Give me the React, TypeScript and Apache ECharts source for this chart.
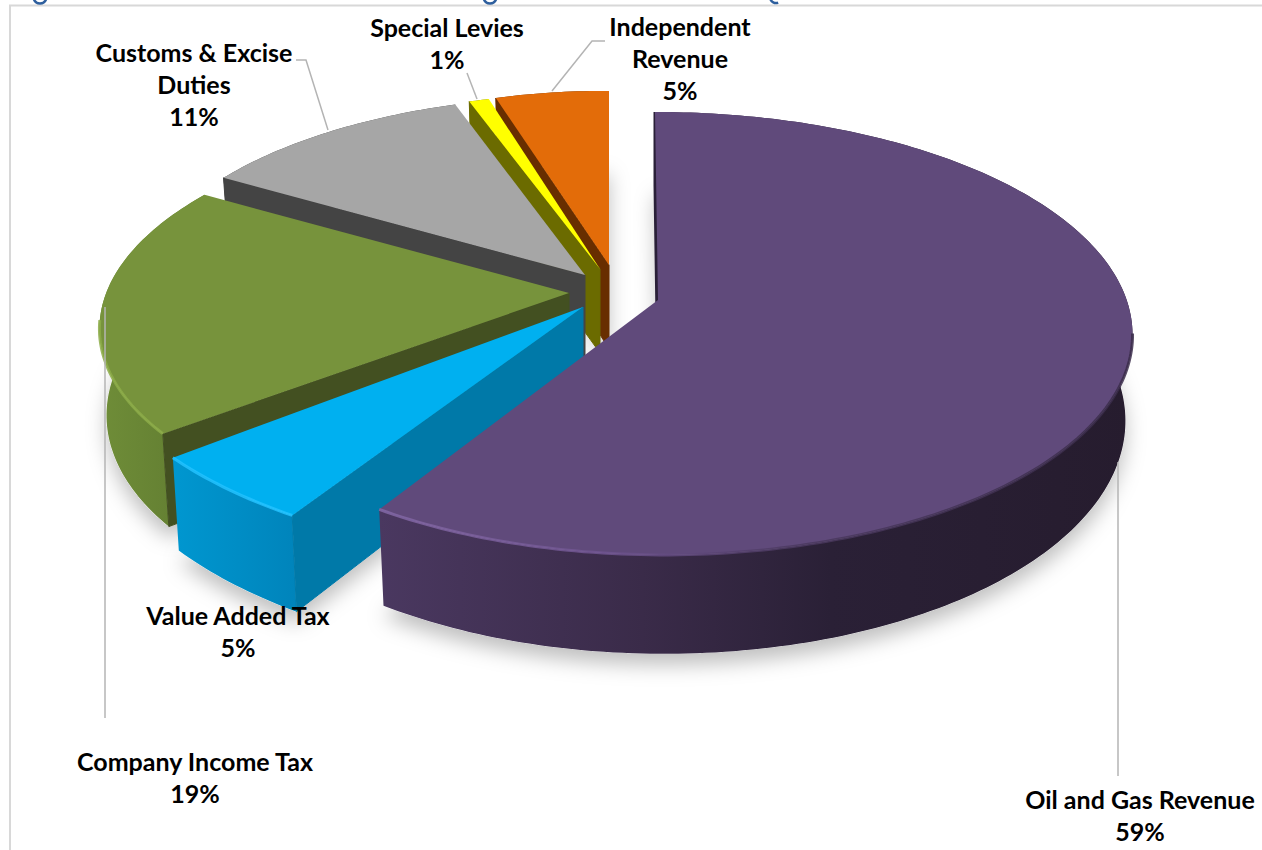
import React, { useEffect, useRef } from "react";
import * as echarts from "echarts";

// Revenue shares, clockwise from twelve o'clock.
const categories = [
  "Oil and Gas Revenue",
  "Value Added Tax",
  "Company Income Tax",
  "Customs & Excise\nDuties",
  "Special Levies",
  "Independent\nRevenue",
];
const shares = [59, 5, 19, 11, 1, 5];

// Back-to-front drawing sequence of the slices.
const paintOrder = [5, 4, 3, 2, 1, 0];

const topColors = ["#604a7b", "#00b0f0", "#77933c", "#a6a6a6", "#ffff00", "#e36c09"];
const rimColors = ["#7d60a0", "#22c2ff", "#8cab48", "#b0b0b0", "#ffff40", "#ee7a18"];
const sideColors = ["#2a2038", "#0079a8", "#435021", "#444444", "#6b6b00", "#682e00"];
const outerWallStops: [string, string][] = [
  ["#4a3860", "#231a2c"],
  ["#0097d0", "#0084bb"],
  ["#6f8d38", "#5f7a30"],
  ["#444444", "#444444"],
  ["#6b6b00", "#6b6b00"],
  ["#682e00", "#682e00"],
];

// Screen pull of each slice away from the pie's centre.
const slicePull = [
  { start: [-3, 0], end: [8, 0], apex: [0, 0] },
  { start: [-79, 6], end: [-87, 5], apex: [-75, 7] },
  { start: [-97, -19], end: [-72, -8], apex: [-89, -7] },
  { start: [-53, -25], end: [-52, -19], apex: [-73, -25] },
  { start: [-38, -22], end: [-43, -21], apex: [-58, -31] },
  { start: [-36, -22], end: [-49, -21], apex: [-49, -35] },
];

// Label blocks: centre point of each text and its leader line.
const labelCentres = [
  [1140, 815],
  [238, 631],
  [195, 777],
  [194, 84],
  [447, 42.5],
  [680, 58],
];
const leaderLines: number[][][] = [
  [[1118, 462], [1118, 776]],
  [],
  [[105, 307], [105, 718]],
  [[296, 60], [306, 60], [328, 130]],
  [[467, 73], [477, 99]],
  [[605, 41], [592, 41], [552, 91]],
];

// Descender tails of the heading line that runs off the top of the page.
const headingTails = [
  { cx: 40, cy: -3, r: 6.5, from: 0.35, to: 2.8 },
  { cx: 490, cy: -3, r: 6.5, from: 0.35, to: 2.8 },
  { cx: 776, cy: -3, r: 6, from: 1.2, to: 2.9 },
];

// Perspective disc model.
const CX = 658;
const CY = 300;
const RADIUS = 467;
const TILT = 0.4634;
const PERSPECTIVE = 0.151;
const THICKNESS = 84;
const BASE_SHRINK = 0.985;

function toRad(deg: number) {
  return (deg * Math.PI) / 180;
}

function projectRim(theta: number) {
  const u = RADIUS * Math.sin(theta);
  const v = -RADIUS * Math.cos(theta);
  const s = 1 / (1 - (PERSPECTIVE * v) / RADIUS);
  return { x: CX + u * s, y: CY + v * TILT * s, s };
}

function sliceGeometry(index: number) {
  const before = shares.slice(0, index).reduce((a, b) => a + b, 0);
  const total = shares.reduce((a, b) => a + b, 0);
  const a0 = (before / total) * 360;
  const a1 = ((before + shares[index]) / total) * 360;
  const pull = slicePull[index];
  const steps = Math.max(6, Math.ceil(a1 - a0));
  const rim: number[][] = [];
  const base: number[][] = [];
  const angles: number[] = [];
  for (let k = 0; k <= steps; k++) {
    const t = k / steps;
    const deg = a0 + (a1 - a0) * t;
    const p = projectRim(toRad(deg));
    const dx = pull.start[0] + (pull.end[0] - pull.start[0]) * t;
    const dy = pull.start[1] + (pull.end[1] - pull.start[1]) * t;
    rim.push([p.x + dx, p.y + dy]);
    base.push([CX + (p.x - CX) * BASE_SHRINK + dx, p.y + dy + THICKNESS * p.s]);
    angles.push(deg);
  }
  const apex = [CX + pull.apex[0], CY + pull.apex[1]];
  const apexBase = [apex[0], apex[1] + THICKNESS];
  return { rim, base, apex, apexBase, angles };
}

function renderShadow(_: unknown, api: any) {
  const { base, apexBase } = sliceGeometry(api.value(0));
  return {
    type: "polygon",
    shape: { points: [apexBase, ...base] },
    style: {
      fill: "#ffffff",
      shadowBlur: 20,
      shadowColor: "rgba(0,0,0,0.25)",
      shadowOffsetX: 0,
      shadowOffsetY: 11,
    },
    silent: true,
  };
}

function renderSlice(_: unknown, api: any) {
  const index = api.value(0);
  const { rim, base, apex, apexBase, angles } = sliceGeometry(index);
  const side = sideColors[index];
  const outerFill = new echarts.graphic.LinearGradient(
    0, 0, 1, 0,
    index === 0
      ? [
          { offset: 0, color: "#4a3860" },
          { offset: 0.35, color: "#3a2b49" },
          { offset: 0.6, color: "#2a2036" },
          { offset: 1, color: "#261c2e" },
        ]
      : [
          { offset: 0, color: outerWallStops[index][0] },
          { offset: 1, color: outerWallStops[index][1] },
        ],
  );
  // The lit edge only runs along the part of the rim turned to the viewer.
  const frontRim = rim.filter((_p, k) => Math.cos(toRad(angles[k])) < -0.15);
  const highlight =
    index === 0
      ? new echarts.graphic.LinearGradient(0, 0, 1, 0, [
          { offset: 0, color: "#8468a6" },
          { offset: 0.3, color: "#6f5490" },
          { offset: 0.55, color: "#4b3960" },
          { offset: 1, color: "#3a2c4a" },
        ])
      : rimColors[index];
  const children: any[] = [
    {
      type: "polygon",
      shape: { points: [...rim, ...base.slice().reverse()] },
      style: { fill: outerFill },
      silent: true,
    },
    {
      type: "polygon",
      shape: { points: [apex, rim[0], base[0], apexBase] },
      style: { fill: side, stroke: side, lineWidth: index === 0 ? 3 : 1 },
      silent: true,
    },
    {
      type: "polygon",
      shape: { points: [apex, ...rim] },
      style: { fill: topColors[index] },
      silent: true,
    },
  ];
  if (frontRim.length > 1) {
    children.push({
      type: "polyline",
      shape: { points: frontRim },
      style: { stroke: highlight, lineWidth: 3, fill: "none", opacity: 0.85 },
      silent: true,
    });
  }
  return { type: "group", children };
}

function buildOption() {
  const rows = paintOrder.map((i) => [i, shares[i]]);
  const labelElements = categories.map((name, i) => ({
    type: "text",
    z: 100,
    silent: true,
    style: {
      text: `${name}\n${shares[i]}%`,
      x: labelCentres[i][0],
      y: labelCentres[i][1],
      align: "center",
      verticalAlign: "middle",
      font: 'bold 25px Lato, "Liberation Sans", sans-serif',
      lineHeight: 32,
      fill: "#000000",
    },
  }));
  const leaderElements = leaderLines
    .filter((points) => points.length > 0)
    .map((points) => ({
      type: "polyline",
      z: 90,
      silent: true,
      shape: { points },
      style: { stroke: "#b4b4b4", lineWidth: 1.5, fill: "none" },
    }));
  const tailElements = headingTails.map((tail) => ({
    type: "arc",
    z: 100,
    silent: true,
    shape: { cx: tail.cx, cy: tail.cy, r: tail.r, startAngle: tail.from, endAngle: tail.to, clockwise: true },
    style: { stroke: "#2e5f9e", lineWidth: 2.5, fill: "none" },
  }));
  return {
    animation: false,
    backgroundColor: "#ffffff",
    series: [
      {
        type: "custom",
        coordinateSystem: "none",
        z: 1,
        silent: true,
        renderItem: renderShadow,
        data: rows,
      },
      {
        type: "custom",
        coordinateSystem: "none",
        z: 2,
        silent: true,
        renderItem: renderSlice,
        data: rows,
      },
    ],
    graphic: {
      elements: [
        {
          type: "polyline",
          z: 80,
          silent: true,
          shape: { points: [[10, 860], [10, 5.5], [1270, 5.5]] },
          style: { stroke: "#d8d8d8", lineWidth: 2, fill: "none" },
        },
        ...tailElements,
        ...leaderElements,
        ...labelElements,
      ],
    },
  };
}

export default function App() {
  const ref = useRef<HTMLDivElement>(null);
  useEffect(() => {
    if (!ref.current) return;
    const chart = echarts.init(ref.current, undefined, { renderer: "svg" });
    chart.setOption(buildOption() as any);
    return () => chart.dispose();
  }, []);
  return (
    <div
      ref={ref}
      style={{ position: "fixed", left: 0, top: 0, width: 1262, height: 850, background: "#ffffff" }}
    />
  );
}
